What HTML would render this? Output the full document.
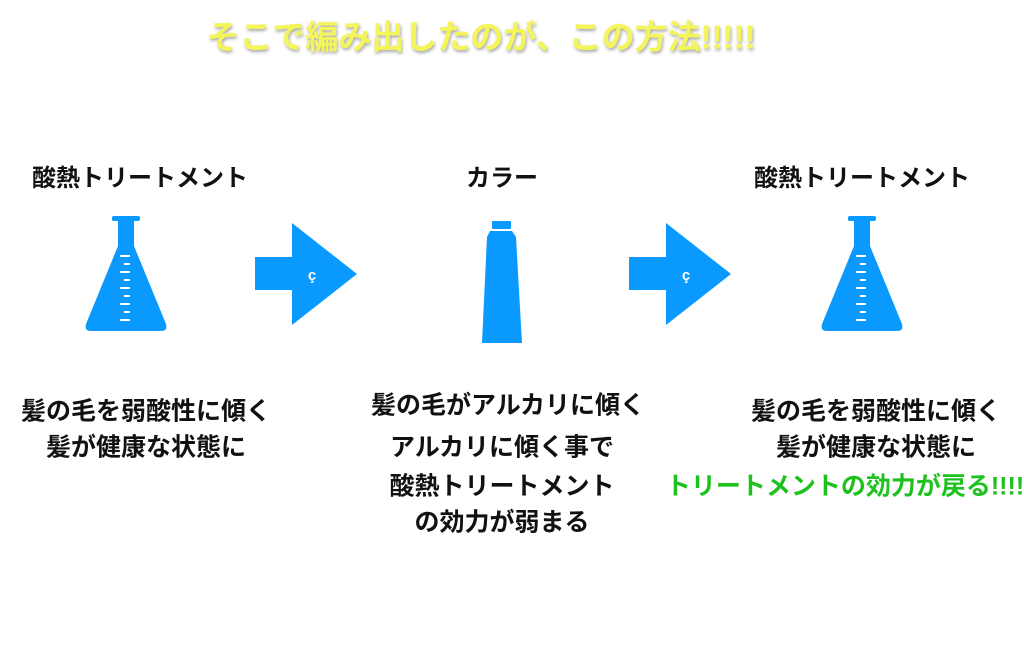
<!DOCTYPE html>
<html><head><meta charset="utf-8"><style>
body{margin:0;width:1024px;height:672px;background:#fff;position:relative;overflow:hidden;font-family:"Liberation Sans","Noto Sans CJK JP",sans-serif;font-weight:bold;color:#111}
.t{position:absolute;white-space:nowrap;transform:translate(-50%,-50%);font-size:25px;line-height:1}
svg{position:absolute;left:0;top:0}
</style></head><body>
<svg width="1024" height="672">
<defs>
<g id="flask">
<rect x="-14" y="216" width="28" height="5" rx="2"/>
<path d="M-8 220 L8 220 L8 246 L40 324 Q42 331 35 331 L-35 331 Q-42 331 -40 324 L-8 246 Z"/>
</g>
<g id="ticks" fill="#fff">
<rect x="-6" y="255" width="10" height="2"/><rect x="-2" y="263" width="6" height="2"/>
<rect x="-6" y="271" width="10" height="2"/><rect x="-2" y="279" width="6" height="2"/>
<rect x="-6" y="287" width="10" height="2"/><rect x="-2" y="295" width="6" height="2"/>
<rect x="-6" y="303" width="10" height="2"/><rect x="-2" y="311" width="6" height="2"/>
<rect x="-6" y="319" width="10" height="2"/>
</g>
<g id="arrow"><rect x="0" y="257" width="38" height="33"/><path d="M37 223 L102 274 L37 325 Z"/></g>
</defs>
<g fill="#0a99ff">
<g transform="translate(126,0)"><use href="#flask"/><use href="#ticks"/></g>
<g transform="translate(862,0)"><use href="#flask"/><use href="#ticks"/></g>
<g transform="translate(255,0)"><use href="#arrow"/></g>
<g transform="translate(629,0)"><use href="#arrow"/></g>
<rect x="492" y="221" width="19" height="8" rx="1"/>
<path d="M490 231 L512 231 L516 237 L522 343 L482 343 L487 237 Z"/>
</g>
<text x="312" y="280" fill="#fff" font-size="15" text-anchor="middle" font-family="Liberation Sans">ç</text>
<text x="686" y="280" fill="#fff" font-size="15" text-anchor="middle" font-family="Liberation Sans">ç</text>
</svg>
<div class="t" style="left:481px;top:37px;font-size:33px;color:#f4f55a;text-shadow:1px 2px 3px rgba(0,0,0,.35)">そこで編み出したのが、この方法!!!!!</div>
<div class="t" style="left:140px;top:179px;font-size:24px">酸熱トリートメント</div>
<div class="t" style="left:502px;top:179px;font-size:24px">カラー</div>
<div class="t" style="left:862px;top:179px;font-size:24px">酸熱トリートメント</div>
<div class="t" style="left:146px;top:412px">髪の毛を弱酸性に傾く</div>
<div class="t" style="left:146px;top:448px">髪が健康な状態に</div>
<div class="t" style="left:508px;top:406px">髪の毛がアルカリに傾く</div>
<div class="t" style="left:502px;top:448px">アルカリに傾く事で</div>
<div class="t" style="left:502px;top:487px">酸熱トリートメント</div>
<div class="t" style="left:502px;top:523px">の効力が弱まる</div>
<div class="t" style="left:876px;top:412px">髪の毛を弱酸性に傾く</div>
<div class="t" style="left:876px;top:448px">髪が健康な状態に</div>
<div class="t" style="left:845px;top:487px;color:#1ec21e">トリートメントの効力が戻る!!!!</div>
</body></html>
